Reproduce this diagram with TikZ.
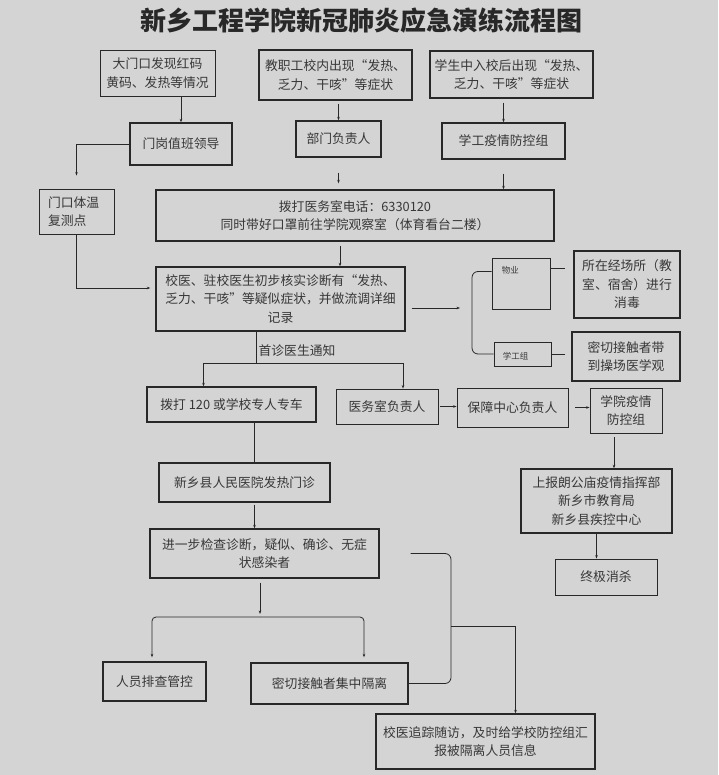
\documentclass[tikz,border=0pt]{standalone}
\usepackage{fontspec}
\setmainfont{Noto Sans CJK SC}
\usetikzlibrary{arrows.meta}
\definecolor{bgray}{RGB}{212,212,212}
\definecolor{ink}{RGB}{40,40,40}
\definecolor{txt}{RGB}{55,55,55}
\tikzset{
  box/.style={draw=ink, line width=1.4pt, align=center, text=txt, inner sep=2pt,
    font=\fontsize{12.8}{18.5}\selectfont},
  lbox/.style={box, line width=0.9pt},
  tag/.style={text=txt, inner sep=0pt, font=\fontsize{8.5}{10}\selectfont},
  link/.style={draw=ink, line width=0.8pt},
  arr/.style={link, -{Stealth[length=3.5pt,width=2.6pt]}},
}
\begin{document}
\begin{tikzpicture}[x=1pt,y=-1pt]
                %\draw[help lines] (0,0) grid (718,775);
                \fill[bgray] (0,0) rectangle (718,775);
                \useasboundingbox (0,0) rectangle (718,775);
                \node[text=ink, font=\fontsize{26}{30}\selectfont\bfseries] (title) at (361,21) {新乡工程学院新冠肺炎应急演练流程图};
                \node[lbox, minimum width=115pt, minimum height=46pt] (gate) at (157.5,73) {大门口发现红码\\黄码、发热等情况};
                \node[box, minimum width=153pt, minimum height=50pt] (staff) at (335.5,75) {教职工校内出现“发热、\\乏力、干咳”等症状};
                \node[box, minimum width=163pt, minimum height=47pt] (stud) at (511.5,74.5) {学生中入校后出现“发热、\\乏力、干咳”等症状};
                \node[box, minimum width=102pt, minimum height=42pt] (duty) at (181,144) {门岗值班领导};
                \node[box, minimum width=85pt, minimum height=36pt] (dept) at (338.5,139) {部门负责人};
                \node[box, minimum width=123pt, minimum height=36pt] (sgrp) at (503.5,141) {学工疫情防控组};
                \node[lbox, minimum width=75pt, minimum height=45pt, text width=57pt, align=left] (temp) at (76.5,211.5) {门口体温\\复测点};
                \node[box, minimum width=398pt, minimum height=51pt] (call) at (355,215.5) {拨打医务室电话：6330120\\同时带好口罩前往学院观察室（体育看台二楼）};
                \node[box, minimum width=249pt, minimum height=64pt] (doc) at (280.5,299) {校医、驻校医生初步核实诊断有“发热、\\乏力、干咳”等疑似症状，并做流调详细\\记录};
                \node[lbox, minimum width=58pt, minimum height=51pt, label={[tag, anchor=north west, xshift=10pt, yshift=-9pt]north west:物业}] (prop) at (521,283.5) {};
                \node[box, minimum width=106pt, minimum height=67pt] (clean) at (627,284.5) {所在经场所（教\\室、宿舍）进行\\消毒};
                \node[lbox, minimum width=57pt, minimum height=24pt, label={[tag, anchor=west, xshift=9pt, yshift=-2pt]west:学工组}] (xgz) at (522.5,354) {};
                \node[box, minimum width=108pt, minimum height=49pt] (obs) at (626,356.5) {密切接触者带\\到操场医学观};
                \node[text=txt, font=\fontsize{12.8}{15}\selectfont] (note) at (297,351) {首诊医生通知};
                \node[box, minimum width=169pt, minimum height=35pt] (car) at (231.5,404.5) {拨打 120 或学校专人专车};
                \node[lbox, minimum width=102pt, minimum height=35pt] (med) at (387,406.5) {医务室负责人};
                \node[lbox, minimum width=111pt, minimum height=39pt] (supp) at (512.5,407.5) {保障中心负责人};
                \node[lbox, minimum width=72pt, minimum height=45pt] (cgrp) at (626,410.5) {学院疫情\\防控组};
                \node[box, minimum width=171pt, minimum height=39pt] (hosp) at (244.5,482.5) {新乡县人民医院发热门诊};
                \node[box, minimum width=151pt, minimum height=64pt] (rep) at (596.5,501) {上报朗公庙疫情指挥部\\新乡市教育局\\新乡县疾控中心};
                \node[box, minimum width=229pt, minimum height=49pt] (diag) at (264.5,553.5) {进一步检查诊断，疑似、确诊、无症\\状感染者};
                \node[lbox, minimum width=102pt, minimum height=36pt] (kill) at (606,577) {终极消杀};
                \node[box, minimum width=103pt, minimum height=39pt] (scr) at (154.5,681.5) {人员排查管控};
                \node[box, minimum width=157pt, minimum height=41pt] (iso) at (329.5,683.5) {密切接触者集中隔离};
                \node[box, minimum width=219pt, minimum height=55pt] (trace) at (485.5,741.5) {校医追踪随访，及时给学校防控组汇\\报被隔离人员信息};
                \coordinate (fork1) at (472,308);
                \coordinate (split1) at (256,363);
                \coordinate (split2) at (260,617);
                \coordinate (fork2) at (451,626);
                \draw[arr] (duty.north |- gate.south) -- (duty.north);
                \draw[arr, shorten >=13pt] (duty.west) -| (temp.north);
                \draw[arr, shorten <=3pt] (dept.north |- staff.south) -- (dept.north);
                \draw[arr, shorten <=4pt] (sgrp.north |- stud.south) -- (sgrp.north);
                \draw[arr, shorten <=15pt, shorten >=6pt] (dept.south) -- (dept.south |- call.north);
                \draw[arr, shorten <=14pt] (sgrp.south) -- (sgrp.south |- call.north);
                \draw[arr, shorten <=4pt] ([xshift=-15pt]call.south) -- ([xshift=-15pt]call.south |- doc.north);
                \draw[arr, shorten >=5pt] (temp.south) |- ([yshift=11pt]doc.west);
                \draw[arr, shorten <=6pt, shorten >=12pt] ([yshift=-9pt]doc.east) -- (fork1);
                \draw[link, rounded corners=6pt] ([yshift=12pt]prop.west) -| (fork1) |- (xgz.west);
                \draw[link, shorten >=8pt] ([yshift=15pt]prop.east) -- ([yshift=15pt]prop.east -| clean.west);
                \draw[link, shorten >=6pt] (xgz.east) -- (xgz.east -| obs.west);
                \draw[link] (split1 |- doc.south) -- (split1);
                \draw[arr] (split1) -| ([xshift=-28pt]car.north);
                \draw[arr] (split1) -| ([xshift=16pt]med.north);
                \draw[arr, shorten <=2pt] (med.east) -- (med.east -| supp.west);
                \draw[arr, shorten <=7pt] (supp.east) -- (supp.east -| cgrp.west);
                \draw[link] ([xshift=10pt]hosp.north |- car.south) -- ([xshift=10pt]hosp.north);
                \draw[arr, shorten <=2pt] ([xshift=10pt]hosp.south) -- ([xshift=10pt]hosp.south |- diag.north);
                \draw[arr, shorten <=4pt] ([xshift=-12pt]cgrp.south) -- ([xshift=-12pt]cgrp.south |- rep.north);
                \draw[arr] (rep.south) -- (rep.south |- kill.north);
                \draw[arr, shorten <=4pt, shorten >=3pt] (split2 |- diag.south) -- (split2);
                \draw[arr, rounded corners=4pt, shorten >=4pt] (split2) -| ([xshift=-2.5pt]scr.north);
                \draw[arr, rounded corners=4pt, shorten >=5pt] (split2) -| ([xshift=34.5pt]iso.north);
                \draw[link, rounded corners=6pt, shorten <=31pt] (diag.east) -| (fork2) |- (iso.east);
                \draw[arr] (fork2) -| ([xshift=30pt]trace.north);
            \end{tikzpicture}
\end{document}
